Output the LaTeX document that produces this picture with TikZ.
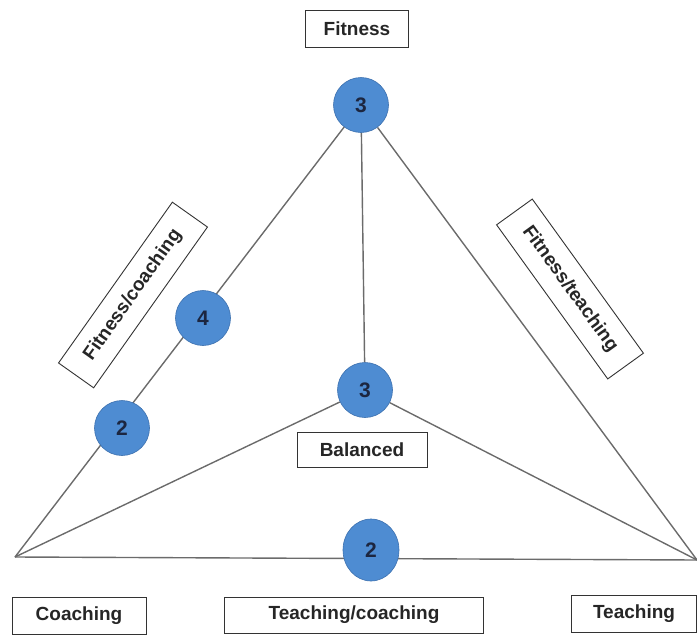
\documentclass[tikz,border=0pt]{standalone}
\usepackage{fontspec}
\setmainfont{Liberation Sans}
\usepackage{xcolor}
\usepackage{tikz}
\usetikzlibrary{shapes.geometric,backgrounds}
\definecolor{DotBlue}{RGB}{78,140,210}
\definecolor{DotEdge}{RGB}{60,112,175}
\definecolor{DotInk}{RGB}{28,38,64}
\definecolor{EdgeGray}{gray}{0.42}

\begin{document}
\begin{tikzpicture}[x=1pt,y=-1pt,
    font=\fontsize{19}{22}\selectfont\bfseries,
    dot/.style={circle,fill=DotBlue,draw=DotEdge,line width=0.6pt,
      minimum size=55pt,inner sep=0pt,text=DotInk,
      font=\fontsize{21}{24}\selectfont\bfseries},
    tag/.style={draw=black!80,line width=0.9pt,fill=white,inner sep=0pt,
      minimum height=37pt,text=black!85},
    edge/.style={draw=EdgeGray,line width=1.4pt}]
  \useasboundingbox (0,0) rectangle (697,635);
  % vertices and score dots
  \coordinate (vL) at (15,557);
  \coordinate (vR) at (697,560);
  \node[dot] (dTop) at (361,105) {3};
  \node[dot] (dMid) at (365,390) {3};
  \node[dot] (dFC) at (203,318) {4};
  \node[dot] (dCo) at (122,428) {2};
  \node[dot,ellipse,minimum width=56pt,minimum height=62pt] (dTC) at (371,550) {2};
  % triangle edges
  \begin{scope}[on background layer]
    \draw[edge] (dTop.center) -- (vL);
    \draw[edge] (dTop) -- (vR);
    \draw[edge] (dTop) -- (dMid);
    \draw[edge] (dMid) -- (vL);
    \draw[edge] (dMid) -- (vR);
    \draw[edge] (vL) -- (vR);
  \end{scope}
  % labels
  \node[tag,minimum width=103pt] (tFit) at (357,29) {Fitness};
  \node[tag,minimum width=130pt,minimum height=35pt] (tBal) at (362,450) {Balanced};
  \node[tag,minimum width=134pt] (tCo) at (79,616) {Coaching};
  \node[tag,minimum width=259pt,minimum height=36pt] (tTC) at (354,615) {Teaching/coaching};
  \node[tag,minimum width=125pt] (tTe) at (634,614) {Teaching};
  \node[tag,minimum width=197pt,minimum height=43pt,rotate=54.7] (tFC) at (133,295) {Fitness/coaching};
  \node[tag,minimum width=190pt,minimum height=44pt,rotate=-54.2] (tFT) at (570,289) {Fitness/teaching};
\end{tikzpicture}
\end{document}
